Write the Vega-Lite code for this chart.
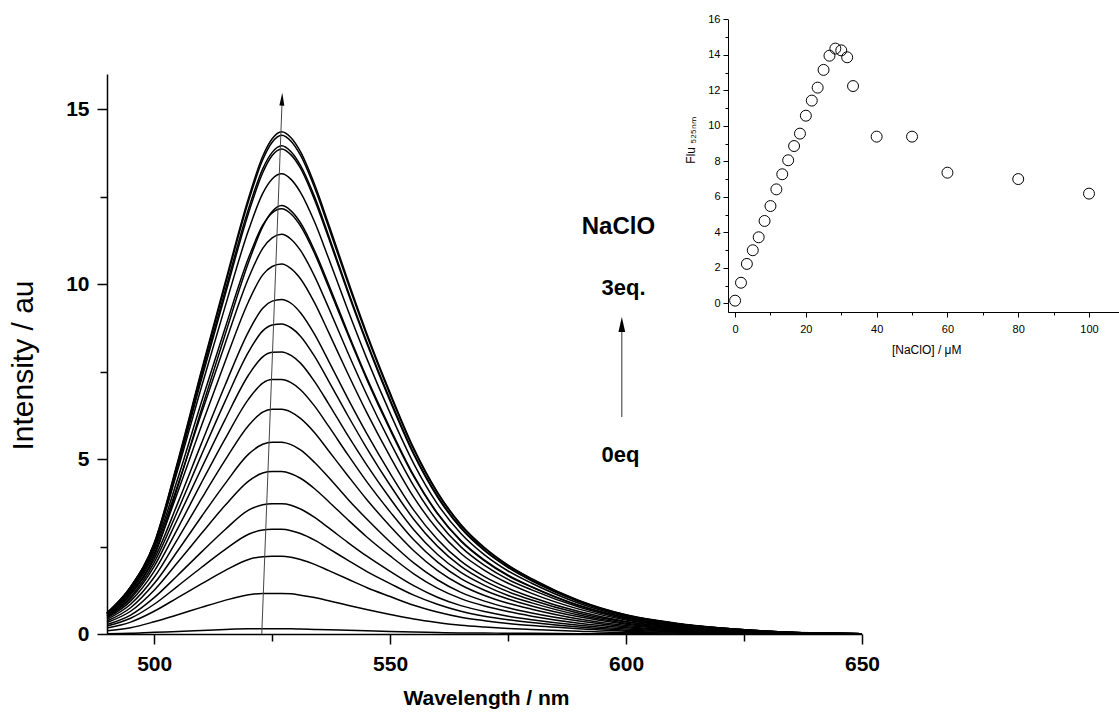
{
  "$schema": "https://vega.github.io/schema/vega-lite/v6.json",
  "width": 755,
  "height": 560,
  "autosize": {"type": "none"},
  "padding": {"left": 107, "top": 74, "right": 257, "bottom": 78},
  "background": "white",
  "config": {"view": {"stroke": null}, "axis": {"grid": false}},
  "datasets": {
    "spectra": [
      {"w": 490, "c0": 0.01, "c1": 0.09, "c2": 0.17, "c3": 0.23, "c4": 0.27, "c5": 0.33, "c6": 0.37, "c7": 0.42, "c8": 0.46, "c9": 0.49, "c10": 0.51, "c11": 0.53, "c12": 0.56, "c13": 0.57, "c14": 0.59, "c15": 0.6, "c16": 0.6, "c17": 0.6, "c18": 0.6, "c19": 0.58, "c20": 0.51},
      {"w": 495, "c0": 0.02, "c1": 0.18, "c2": 0.34, "c3": 0.45, "c4": 0.54, "c5": 0.65, "c6": 0.75, "c7": 0.85, "c8": 0.94, "c9": 1.01, "c10": 1.06, "c11": 1.12, "c12": 1.2, "c13": 1.23, "c14": 1.27, "c15": 1.32, "c16": 1.34, "c17": 1.35, "c18": 1.34, "c19": 1.3, "c20": 1.15},
      {"w": 500, "c0": 0.05, "c1": 0.35, "c2": 0.65, "c3": 0.85, "c4": 1.04, "c5": 1.25, "c6": 1.44, "c7": 1.62, "c8": 1.79, "c9": 1.93, "c10": 2.04, "c11": 2.14, "c12": 2.29, "c13": 2.37, "c14": 2.44, "c15": 2.53, "c16": 2.57, "c17": 2.6, "c18": 2.58, "c19": 2.51, "c20": 2.22},
      {"w": 505, "c0": 0.07, "c1": 0.55, "c2": 1.04, "c3": 1.37, "c4": 1.68, "c5": 2.05, "c6": 2.38, "c7": 2.72, "c8": 3.02, "c9": 3.3, "c10": 3.53, "c11": 3.74, "c12": 4.06, "c13": 4.26, "c14": 4.44, "c15": 4.69, "c16": 4.85, "c17": 4.94, "c18": 4.9, "c19": 4.77, "c20": 4.21},
      {"w": 510, "c0": 0.1, "c1": 0.76, "c2": 1.43, "c3": 1.9, "c4": 2.34, "c5": 2.87, "c6": 3.35, "c7": 3.86, "c8": 4.32, "c9": 4.73, "c10": 5.11, "c11": 5.44, "c12": 5.94, "c13": 6.3, "c14": 6.62, "c15": 7.05, "c16": 7.36, "c17": 7.52, "c18": 7.47, "c19": 7.26, "c20": 6.41},
      {"w": 515, "c0": 0.13, "c1": 0.96, "c2": 1.81, "c3": 2.41, "c4": 2.98, "c5": 3.67, "c6": 4.29, "c7": 4.96, "c8": 5.57, "c9": 6.12, "c10": 6.64, "c11": 7.1, "c12": 7.77, "c13": 8.28, "c14": 8.73, "c15": 9.34, "c16": 9.79, "c17": 10.02, "c18": 9.95, "c19": 9.67, "c20": 8.54},
      {"w": 520, "c0": 0.15, "c1": 1.12, "c2": 2.13, "c3": 2.85, "c4": 3.54, "c5": 4.37, "c6": 5.14, "c7": 5.96, "c8": 6.71, "c9": 7.4, "c10": 8.06, "c11": 8.64, "c12": 9.5, "c13": 10.17, "c14": 10.75, "c15": 11.54, "c16": 12.15, "c17": 12.46, "c18": 12.37, "c19": 12.03, "c20": 10.62},
      {"w": 523, "c0": 0.15, "c1": 1.16, "c2": 2.21, "c3": 2.97, "c4": 3.69, "c5": 4.6, "c6": 5.42, "c7": 6.34, "c8": 7.17, "c9": 7.92, "c10": 8.66, "c11": 9.31, "c12": 10.26, "c13": 11.02, "c14": 11.68, "c15": 12.59, "c16": 13.29, "c17": 13.65, "c18": 13.55, "c19": 13.18, "c20": 11.64},
      {"w": 525, "c0": 0.15, "c1": 1.16, "c2": 2.22, "c3": 2.99, "c4": 3.72, "c5": 4.64, "c6": 5.48, "c7": 6.42, "c8": 7.27, "c9": 8.05, "c10": 8.83, "c11": 9.51, "c12": 10.5, "c13": 11.32, "c14": 12.03, "c15": 13.0, "c16": 13.76, "c17": 14.15, "c18": 14.05, "c19": 13.67, "c20": 12.07},
      {"w": 527, "c0": 0.15, "c1": 1.16, "c2": 2.22, "c3": 2.99, "c4": 3.72, "c5": 4.64, "c6": 5.48, "c7": 6.42, "c8": 7.27, "c9": 8.06, "c10": 8.86, "c11": 9.56, "c12": 10.57, "c13": 11.42, "c14": 12.15, "c15": 13.15, "c16": 13.95, "c17": 14.35, "c18": 14.25, "c19": 13.86, "c20": 12.24},
      {"w": 529, "c0": 0.15, "c1": 1.15, "c2": 2.19, "c3": 2.95, "c4": 3.68, "c5": 4.58, "c6": 5.41, "c7": 6.34, "c8": 7.18, "c9": 7.96, "c10": 8.75, "c11": 9.45, "c12": 10.44, "c13": 11.28, "c14": 12.0, "c15": 12.99, "c16": 13.78, "c17": 14.18, "c18": 14.08, "c19": 13.69, "c20": 12.09},
      {"w": 531, "c0": 0.14, "c1": 1.11, "c2": 2.13, "c3": 2.87, "c4": 3.57, "c5": 4.45, "c6": 5.26, "c7": 6.16, "c8": 6.98, "c9": 7.74, "c10": 8.51, "c11": 9.18, "c12": 10.15, "c13": 10.96, "c14": 11.66, "c15": 12.62, "c16": 13.39, "c17": 13.78, "c18": 13.68, "c19": 13.31, "c20": 11.75},
      {"w": 534, "c0": 0.13, "c1": 1.04, "c2": 1.99, "c3": 2.68, "c4": 3.33, "c5": 4.15, "c6": 4.9, "c7": 5.75, "c8": 6.51, "c9": 7.21, "c10": 7.93, "c11": 8.56, "c12": 9.46, "c13": 10.22, "c14": 10.87, "c15": 11.77, "c16": 12.49, "c17": 12.84, "c18": 12.75, "c19": 12.4, "c20": 10.95},
      {"w": 537, "c0": 0.12, "c1": 0.95, "c2": 1.81, "c3": 2.44, "c4": 3.03, "c5": 3.78, "c6": 4.47, "c7": 5.23, "c8": 5.93, "c9": 6.57, "c10": 7.22, "c11": 7.79, "c12": 8.61, "c13": 9.31, "c14": 9.9, "c15": 10.72, "c16": 11.37, "c17": 11.7, "c18": 11.61, "c19": 11.3, "c20": 9.98},
      {"w": 541, "c0": 0.11, "c1": 0.82, "c2": 1.57, "c3": 2.11, "c4": 2.62, "c5": 3.27, "c6": 3.86, "c7": 4.53, "c8": 5.13, "c9": 5.68, "c10": 6.25, "c11": 6.74, "c12": 7.45, "c13": 8.05, "c14": 8.57, "c15": 9.27, "c16": 9.83, "c17": 10.12, "c18": 10.05, "c19": 9.77, "c20": 8.63},
      {"w": 545, "c0": 0.09, "c1": 0.7, "c2": 1.33, "c3": 1.79, "c4": 2.23, "c5": 2.78, "c6": 3.29, "c7": 3.85, "c8": 4.36, "c9": 4.84, "c10": 5.32, "c11": 5.74, "c12": 6.34, "c13": 6.85, "c14": 7.29, "c15": 7.89, "c16": 8.37, "c17": 8.61, "c18": 8.55, "c19": 8.32, "c20": 7.34},
      {"w": 550, "c0": 0.07, "c1": 0.56, "c2": 1.07, "c3": 1.44, "c4": 1.79, "c5": 2.23, "c6": 2.63, "c7": 3.08, "c8": 3.49, "c9": 3.87, "c10": 4.25, "c11": 4.59, "c12": 5.07, "c13": 5.48, "c14": 5.83, "c15": 6.31, "c16": 6.7, "c17": 6.89, "c18": 6.84, "c19": 6.65, "c20": 5.88},
      {"w": 555, "c0": 0.06, "c1": 0.43, "c2": 0.82, "c3": 1.11, "c4": 1.38, "c5": 1.72, "c6": 2.03, "c7": 2.38, "c8": 2.69, "c9": 2.98, "c10": 3.28, "c11": 3.54, "c12": 3.91, "c13": 4.23, "c14": 4.5, "c15": 4.87, "c16": 5.16, "c17": 5.31, "c18": 5.27, "c19": 5.13, "c20": 4.53},
      {"w": 560, "c0": 0.04, "c1": 0.33, "c2": 0.63, "c3": 0.85, "c4": 1.05, "c5": 1.31, "c6": 1.55, "c7": 1.82, "c8": 2.06, "c9": 2.28, "c10": 2.51, "c11": 2.71, "c12": 2.99, "c13": 3.23, "c14": 3.44, "c15": 3.72, "c16": 3.95, "c17": 4.06, "c18": 4.03, "c19": 3.92, "c20": 3.46},
      {"w": 565, "c0": 0.03, "c1": 0.25, "c2": 0.48, "c3": 0.65, "c4": 0.81, "c5": 1.01, "c6": 1.19, "c7": 1.4, "c8": 1.58, "c9": 1.76, "c10": 1.93, "c11": 2.08, "c12": 2.3, "c13": 2.49, "c14": 2.65, "c15": 2.87, "c16": 3.04, "c17": 3.13, "c18": 3.11, "c19": 3.02, "c20": 2.67},
      {"w": 570, "c0": 0.03, "c1": 0.2, "c2": 0.38, "c3": 0.51, "c4": 0.64, "c5": 0.8, "c6": 0.94, "c7": 1.1, "c8": 1.25, "c9": 1.39, "c10": 1.52, "c11": 1.64, "c12": 1.82, "c13": 1.96, "c14": 2.09, "c15": 2.26, "c16": 2.4, "c17": 2.47, "c18": 2.45, "c19": 2.38, "c20": 2.11},
      {"w": 575, "c0": 0.02, "c1": 0.16, "c2": 0.3, "c3": 0.41, "c4": 0.51, "c5": 0.64, "c6": 0.75, "c7": 0.88, "c8": 1.0, "c9": 1.1, "c10": 1.21, "c11": 1.31, "c12": 1.45, "c13": 1.56, "c14": 1.66, "c15": 1.8, "c16": 1.91, "c17": 1.97, "c18": 1.95, "c19": 1.9, "c20": 1.68},
      {"w": 580, "c0": 0.02, "c1": 0.13, "c2": 0.24, "c3": 0.33, "c4": 0.41, "c5": 0.51, "c6": 0.6, "c7": 0.71, "c8": 0.8, "c9": 0.89, "c10": 0.97, "c11": 1.05, "c12": 1.16, "c13": 1.26, "c14": 1.34, "c15": 1.45, "c16": 1.53, "c17": 1.58, "c18": 1.57, "c19": 1.52, "c20": 1.35},
      {"w": 590, "c0": 0.01, "c1": 0.08, "c2": 0.15, "c3": 0.2, "c4": 0.25, "c5": 0.31, "c6": 0.37, "c7": 0.43, "c8": 0.49, "c9": 0.54, "c10": 0.59, "c11": 0.64, "c12": 0.71, "c13": 0.77, "c14": 0.81, "c15": 0.88, "c16": 0.93, "c17": 0.96, "c18": 0.95, "c19": 0.93, "c20": 0.82},
      {"w": 600, "c0": 0.01, "c1": 0.04, "c2": 0.08, "c3": 0.11, "c4": 0.14, "c5": 0.18, "c6": 0.21, "c7": 0.24, "c8": 0.28, "c9": 0.31, "c10": 0.34, "c11": 0.36, "c12": 0.4, "c13": 0.43, "c14": 0.46, "c15": 0.5, "c16": 0.53, "c17": 0.55, "c18": 0.54, "c19": 0.53, "c20": 0.47},
      {"w": 610, "c0": 0, "c1": 0.03, "c2": 0.05, "c3": 0.07, "c4": 0.08, "c5": 0.1, "c6": 0.12, "c7": 0.14, "c8": 0.16, "c9": 0.18, "c10": 0.2, "c11": 0.21, "c12": 0.23, "c13": 0.25, "c14": 0.27, "c15": 0.29, "c16": 0.31, "c17": 0.32, "c18": 0.31, "c19": 0.31, "c20": 0.27},
      {"w": 620, "c0": 0, "c1": 0.01, "c2": 0.03, "c3": 0.04, "c4": 0.05, "c5": 0.06, "c6": 0.07, "c7": 0.08, "c8": 0.09, "c9": 0.1, "c10": 0.11, "c11": 0.12, "c12": 0.13, "c13": 0.14, "c14": 0.15, "c15": 0.16, "c16": 0.17, "c17": 0.17, "c18": 0.17, "c19": 0.17, "c20": 0.15},
      {"w": 630, "c0": 0, "c1": 0.01, "c2": 0.01, "c3": 0.02, "c4": 0.02, "c5": 0.03, "c6": 0.03, "c7": 0.04, "c8": 0.04, "c9": 0.05, "c10": 0.05, "c11": 0.05, "c12": 0.06, "c13": 0.06, "c14": 0.07, "c15": 0.07, "c16": 0.08, "c17": 0.08, "c18": 0.08, "c19": 0.08, "c20": 0.07},
      {"w": 640, "c0": 0, "c1": 0, "c2": 0, "c3": 0.01, "c4": 0.01, "c5": 0.01, "c6": 0.01, "c7": 0.01, "c8": 0.02, "c9": 0.02, "c10": 0.02, "c11": 0.02, "c12": 0.02, "c13": 0.02, "c14": 0.02, "c15": 0.03, "c16": 0.03, "c17": 0.03, "c18": 0.03, "c19": 0.03, "c20": 0.02},
      {"w": 650, "c0": 0, "c1": 0, "c2": 0, "c3": 0, "c4": 0, "c5": 0, "c6": 0, "c7": 0, "c8": 0.01, "c9": 0.01, "c10": 0.01, "c11": 0.01, "c12": 0.01, "c13": 0.01, "c14": 0.01, "c15": 0.01, "c16": 0.01, "c17": 0.01, "c18": 0.01, "c19": 0.01, "c20": 0.01}
    ],
    "titration": [
      {"conc": 0, "flu": 0.15}, {"conc": 1.67, "flu": 1.16}, {"conc": 3.33, "flu": 2.22}, {"conc": 5.0, "flu": 2.99},
      {"conc": 6.67, "flu": 3.72}, {"conc": 8.33, "flu": 4.64}, {"conc": 10.0, "flu": 5.48}, {"conc": 11.67, "flu": 6.42},
      {"conc": 13.33, "flu": 7.27}, {"conc": 15.0, "flu": 8.06}, {"conc": 16.67, "flu": 8.86}, {"conc": 18.33, "flu": 9.56},
      {"conc": 20.0, "flu": 10.57}, {"conc": 21.67, "flu": 11.42}, {"conc": 23.33, "flu": 12.15}, {"conc": 25.0, "flu": 13.15},
      {"conc": 26.67, "flu": 13.95}, {"conc": 28.33, "flu": 14.35}, {"conc": 30.0, "flu": 14.25}, {"conc": 31.67, "flu": 13.86},
      {"conc": 33.33, "flu": 12.24}, {"conc": 40, "flu": 9.39}, {"conc": 50, "flu": 9.39}, {"conc": 60, "flu": 7.36},
      {"conc": 80, "flu": 7.0}, {"conc": 100, "flu": 6.18}
    ]
  },
  "layer": [
    {
      "layer": [
        {
          "data": {"name": "spectra"},
          "transform": [{"fold": ["c0","c1","c2","c3","c4","c5","c6","c7","c8","c9","c10","c11","c12","c13","c14","c15","c16","c17","c18","c19","c20"], "as": ["curve", "intensity"]}],
          "mark": {"type": "line", "interpolate": "monotone", "color": "black", "strokeWidth": 1.5},
          "encoding": {
            "x": {
              "field": "w", "type": "quantitative",
              "scale": {"domain": [490, 650], "nice": false, "zero": false},
              "axis": {
                "values": [500, 525, 550, 575, 600, 625, 650],
                "labelExpr": "datum.value % 50 == 0 ? datum.label : ''",
                "tickSize": {"condition": {"test": "datum.value % 50 == 0", "value": 10}, "value": 7},
                "title": "Wavelength / nm",
                "titleFont": "Liberation Sans",
                "titleFontWeight": "bold", "titleFontSize": 21, "titleColor": "black",
                "titleX": 379, "titleY": 70, "titleBaseline": "alphabetic", "titleAnchor": "middle",
                "labelFont": "Liberation Sans", "labelFontWeight": "bold", "labelFontSize": 21, "labelColor": "black",
                "labelPadding": 9, "labelFlush": false, "labelOverlap": false,
                "domainColor": "black", "domainWidth": 1.5, "tickColor": "black", "tickWidth": 1.5
              }
            },
            "y": {
              "field": "intensity", "type": "quantitative",
              "scale": {"domain": [0, 16], "nice": false, "zero": false},
              "axis": {
                "values": [0, 2.5, 5, 7.5, 10, 12.5, 15],
                "labelExpr": "datum.value % 5 == 0 ? datum.label : ''",
                "tickSize": {"condition": {"test": "datum.value % 5 == 0", "value": 10}, "value": 7},
                "title": "Intensity / au",
                "titleFont": "Liberation Sans", "titleFontWeight": "normal", "titleFontSize": 30, "titleColor": "black",
                "titleX": -84, "titleY": 291, "titleBaseline": "middle", "titleAngle": 270, "titleAnchor": "middle",
                "labelFont": "Liberation Sans", "labelFontWeight": "bold", "labelFontSize": 21, "labelColor": "black",
                "labelPadding": 8, "labelFlush": false, "labelOverlap": false,
                "domainColor": "black", "domainWidth": 1.5, "tickColor": "black", "tickWidth": 1.5
              }
            },
            "detail": {"field": "curve"}
          }
        },
        {
          "data": {"values": [{"x1": 522.8, "y1": 0, "x2": 527.1, "y2": 15.2}]},
          "mark": {"type": "rule", "color": "#444444", "strokeWidth": 1},
          "encoding": {
            "x": {"field": "x1", "type": "quantitative"},
            "y": {"field": "y1", "type": "quantitative"},
            "x2": {"field": "x2"},
            "y2": {"field": "y2"}
          }
        },
        {
          "data": {"values": [{"x": 527.1, "y": 15.28}]},
          "mark": {"type": "point", "shape": "M0,-1L0.38,1L-0.38,1Z", "filled": true, "color": "black", "opacity": 1, "size": 169, "angle": 2},
          "encoding": {
            "x": {"field": "x", "type": "quantitative"},
            "y": {"field": "y", "type": "quantitative"}
          }
        },
        {
          "data": {"values": [{"x1": 599.1, "y1": 6.2, "x2": 599.1, "y2": 8.7}]},
          "mark": {"type": "rule", "color": "#333333", "strokeWidth": 1},
          "encoding": {
            "x": {"field": "x1", "type": "quantitative"},
            "y": {"field": "y1", "type": "quantitative"},
            "x2": {"field": "x2"},
            "y2": {"field": "y2"}
          }
        },
        {
          "data": {"values": [{"x": 599.1, "y": 8.84}]},
          "mark": {"type": "point", "shape": "M0,-1L0.45,1L-0.45,1Z", "filled": true, "color": "black", "opacity": 1, "size": 225},
          "encoding": {
            "x": {"field": "x", "type": "quantitative"},
            "y": {"field": "y", "type": "quantitative"}
          }
        },
        {
          "data": {"values": [{"x": 590.6, "y": 11.43, "label": "NaClO"}]},
          "mark": {"type": "text", "align": "left", "baseline": "alphabetic", "font": "Liberation Sans", "fontWeight": "bold", "fontSize": 24, "color": "black"},
          "encoding": {
            "x": {"field": "x", "type": "quantitative"},
            "y": {"field": "y", "type": "quantitative"},
            "text": {"field": "label"}
          }
        },
        {
          "data": {"values": [{"x": 594.8, "y": 9.69, "label": "3eq."}, {"x": 594.8, "y": 4.92, "label": "0eq"}]},
          "mark": {"type": "text", "align": "left", "baseline": "alphabetic", "font": "Liberation Sans", "fontWeight": "bold", "fontSize": 22, "color": "black"},
          "encoding": {
            "x": {"field": "x", "type": "quantitative"},
            "y": {"field": "y", "type": "quantitative"},
            "text": {"field": "label"}
          }
        }
      ]
    },
    {
      "data": {"name": "titration"},
      "mark": {"type": "point", "shape": "circle", "filled": false, "color": "black", "strokeWidth": 1, "opacity": 1, "size": 120},
      "encoding": {
        "x": {
          "field": "conc", "type": "quantitative",
          "scale": {"domain": [-2, 110], "range": [621, 1017.4], "nice": false, "zero": false},
          "axis": {
            "orient": "bottom", "offset": -322,
            "values": [0, 10, 20, 30, 40, 50, 60, 70, 80, 90, 100, 110],
            "labelExpr": "datum.value % 20 == 0 && datum.value <= 100 ? datum.label : ''",
            "tickSize": {"condition": {"test": "datum.value % 20 == 0", "value": 5}, "value": 3},
            "title": "[NaClO] / μM",
            "titleFont": "Liberation Sans", "titleFontWeight": "normal", "titleFontSize": 12, "titleColor": "black", "titlePadding": 10,
            "labelFont": "Liberation Sans", "labelFontSize": 11, "labelColor": "black", "labelPadding": 6,
            "labelFlush": false, "labelOverlap": false,
            "domainColor": "black", "domainWidth": 1, "tickColor": "black", "tickWidth": 1
          }
        },
        "y": {
          "field": "flu", "type": "quantitative",
          "scale": {"domain": [-0.5, 16], "range": [238.2, -54.7], "nice": false, "zero": false},
          "axis": {
            "orient": "left", "offset": -621,
            "values": [0, 1, 2, 3, 4, 5, 6, 7, 8, 9, 10, 11, 12, 13, 14, 15, 16],
            "labelExpr": "datum.value % 2 == 0 ? datum.label : ''",
            "tickSize": {"condition": {"test": "datum.value % 2 == 0", "value": 5}, "value": 3},
            "title": "Flu ₅₂₅ₙₘ",
            "titleFont": "Liberation Sans", "titleFontWeight": "normal", "titleFontSize": 12, "titleColor": "black",
            "titleX": -38, "titleY": 66, "titleBaseline": "middle", "titleAngle": 270,
            "labelFont": "Liberation Sans", "labelFontSize": 11, "labelColor": "black", "labelPadding": 3,
            "labelFlush": false, "labelOverlap": false,
            "domainColor": "black", "domainWidth": 1, "tickColor": "black", "tickWidth": 1
          }
        }
      }
    }
  ],
  "resolve": {"scale": {"x": "independent", "y": "independent"}}
}
